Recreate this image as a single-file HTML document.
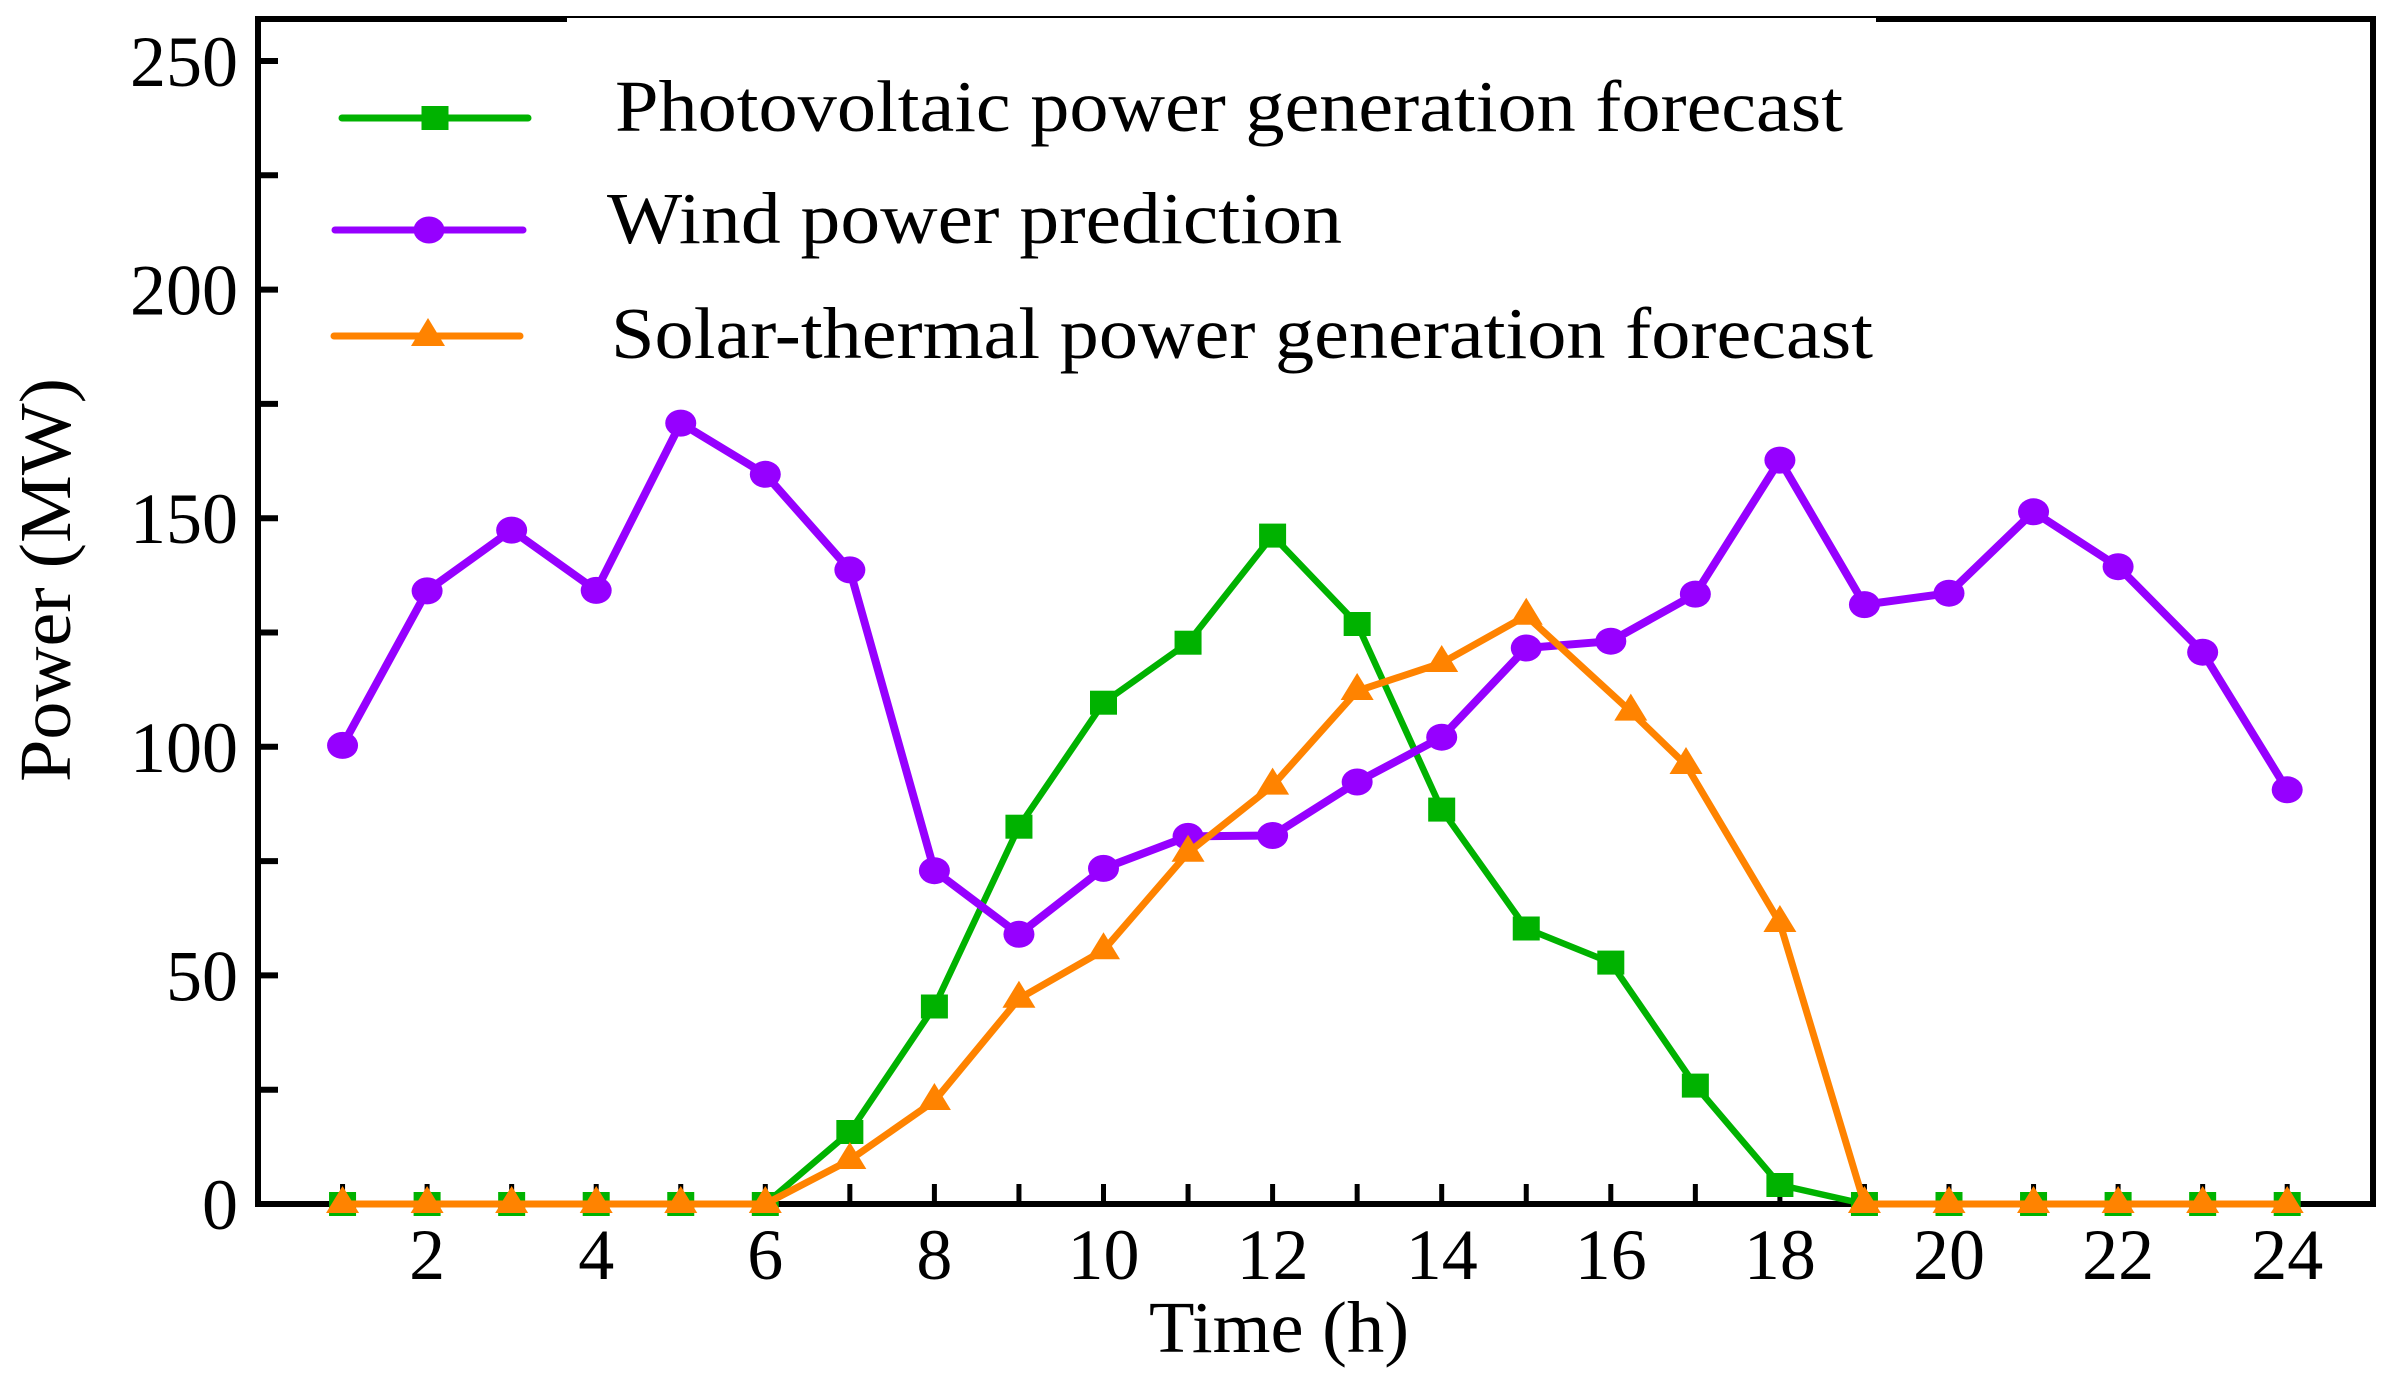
<!DOCTYPE html>
<html>
<head>
<meta charset="utf-8">
<style>
html,body{margin:0;padding:0;background:#ffffff;}
svg{display:block;}
</style>
</head>
<body>
<svg width="2390" height="1388" viewBox="0 0 2390 1388" xmlns="http://www.w3.org/2000/svg" font-family="'Liberation Serif', serif">
<defs>
  <marker id="sq" markerUnits="userSpaceOnUse" markerWidth="27" markerHeight="24" viewBox="0 0 27 24" refX="13.5" refY="12" overflow="visible">
    <rect x="0" y="0" width="27" height="24" fill="#00B200"/>
  </marker>
  <marker id="ci" markerUnits="userSpaceOnUse" markerWidth="31" markerHeight="27" viewBox="0 0 31 27" refX="15.5" refY="13.5" overflow="visible">
    <ellipse cx="15.5" cy="13.5" rx="15.5" ry="13.5" fill="#9600FF"/>
  </marker>
  <marker id="tr" markerUnits="userSpaceOnUse" markerWidth="33" markerHeight="27" viewBox="0 0 33 27" refX="16.5" refY="18" overflow="visible">
    <polygon points="16.5,0 0,27 33,27" fill="#FF8300"/>
  </marker>
</defs>

<rect x="0" y="0" width="2390" height="1388" fill="#ffffff"/>

<!-- axes frame -->
<g stroke="#000" stroke-width="6" fill="none">
  <line x1="258" y1="19" x2="2373" y2="19"/>
  <line x1="258" y1="16" x2="258" y2="1207"/>
  <line x1="2373" y1="16" x2="2373" y2="1207"/>
  <line x1="255" y1="1204" x2="2376" y2="1204"/>
</g>

<!-- y ticks -->
<g stroke="#000" stroke-width="6">
  <line x1="258" y1="1089.7" x2="278" y2="1089.7"/>
  <line x1="258" y1="975.4" x2="278" y2="975.4"/>
  <line x1="258" y1="861.1" x2="278" y2="861.1"/>
  <line x1="258" y1="746.8" x2="278" y2="746.8"/>
  <line x1="258" y1="632.5" x2="278" y2="632.5"/>
  <line x1="258" y1="518.2" x2="278" y2="518.2"/>
  <line x1="258" y1="403.9" x2="278" y2="403.9"/>
  <line x1="258" y1="289.6" x2="278" y2="289.6"/>
  <line x1="258" y1="175.3" x2="278" y2="175.3"/>
  <line x1="258" y1="61" x2="278" y2="61"/>
</g>

<!-- x ticks -->
<g stroke="#000" stroke-width="5">
  <line x1="342.55" y1="1184" x2="342.55" y2="1204"/>
  <line x1="427.1" y1="1184" x2="427.1" y2="1204"/>
  <line x1="511.65" y1="1184" x2="511.65" y2="1204"/>
  <line x1="596.2" y1="1184" x2="596.2" y2="1204"/>
  <line x1="680.75" y1="1184" x2="680.75" y2="1204"/>
  <line x1="765.3" y1="1184" x2="765.3" y2="1204"/>
  <line x1="849.85" y1="1184" x2="849.85" y2="1204"/>
  <line x1="934.4" y1="1184" x2="934.4" y2="1204"/>
  <line x1="1018.95" y1="1184" x2="1018.95" y2="1204"/>
  <line x1="1103.5" y1="1184" x2="1103.5" y2="1204"/>
  <line x1="1188.05" y1="1184" x2="1188.05" y2="1204"/>
  <line x1="1272.6" y1="1184" x2="1272.6" y2="1204"/>
  <line x1="1357.15" y1="1184" x2="1357.15" y2="1204"/>
  <line x1="1441.7" y1="1184" x2="1441.7" y2="1204"/>
  <line x1="1526.25" y1="1184" x2="1526.25" y2="1204"/>
  <line x1="1610.8" y1="1184" x2="1610.8" y2="1204"/>
  <line x1="1695.35" y1="1184" x2="1695.35" y2="1204"/>
  <line x1="1779.9" y1="1184" x2="1779.9" y2="1204"/>
  <line x1="1864.45" y1="1184" x2="1864.45" y2="1204"/>
  <line x1="1949" y1="1184" x2="1949" y2="1204"/>
  <line x1="2033.55" y1="1184" x2="2033.55" y2="1204"/>
  <line x1="2118.1" y1="1184" x2="2118.1" y2="1204"/>
  <line x1="2202.65" y1="1184" x2="2202.65" y2="1204"/>
  <line x1="2287.2" y1="1184" x2="2287.2" y2="1204"/>
</g>

<!-- y tick labels -->
<g font-size="72" fill="#000" text-anchor="end">
  <text x="238" y="1229">0</text>
  <text x="238" y="1000.4">50</text>
  <text x="238" y="771.8">100</text>
  <text x="238" y="543.2">150</text>
  <text x="238" y="314.6">200</text>
  <text x="238" y="86">250</text>
</g>

<!-- x tick labels -->
<g font-size="72" fill="#000" text-anchor="middle">
  <text x="427.1" y="1279">2</text>
  <text x="596.2" y="1279">4</text>
  <text x="765.3" y="1279">6</text>
  <text x="934.4" y="1279">8</text>
  <text x="1103.5" y="1279">10</text>
  <text x="1272.6" y="1279">12</text>
  <text x="1441.7" y="1279">14</text>
  <text x="1610.8" y="1279">16</text>
  <text x="1779.9" y="1279">18</text>
  <text x="1949" y="1279">20</text>
  <text x="2118.1" y="1279">22</text>
  <text x="2287.2" y="1279">24</text>
</g>

<!-- axis titles -->
<text x="1149" y="1352" font-size="73" fill="#000" textLength="260" lengthAdjust="spacingAndGlyphs">Time (h)</text>
<text transform="translate(70,782) rotate(-90)" x="0" y="0" font-size="73" fill="#000" textLength="404" lengthAdjust="spacingAndGlyphs">Power (MW)</text>

<!-- series: PV (green) -->
<polyline fill="none" stroke="#00B200" stroke-width="6.5" stroke-linejoin="round"
  marker-start="url(#sq)" marker-mid="url(#sq)" marker-end="url(#sq)"
  points="342.55,1204 427.1,1204 511.65,1204 596.2,1204 680.75,1204 765.3,1204 849.85,1132 934.4,1006.5 1018.95,826.7 1103.5,702.7 1188.05,642.7 1272.6,535.6 1357.15,624 1441.7,809.6 1526.25,928.5 1610.8,962.6 1695.35,1085.6 1779.9,1185 1864.45,1204 1949,1204 2033.55,1204 2118.1,1204 2202.65,1204 2287.2,1204"/>

<!-- series: Wind (purple) -->
<polyline fill="none" stroke="#9600FF" stroke-width="8" stroke-linejoin="round"
  marker-start="url(#ci)" marker-mid="url(#ci)" marker-end="url(#ci)"
  points="342.55,745.4 427.1,590.9 511.65,530.1 596.2,590.4 680.75,423.1 765.3,474.3 849.85,569.9 934.4,870.7 1018.95,934.3 1103.5,868.4 1188.05,836.4 1272.6,835.5 1357.15,782 1441.7,737.2 1526.25,648 1610.8,641.2 1695.35,594.1 1779.9,460.1 1864.45,604.6 1949,593.2 2033.55,511.8 2118.1,566.7 2202.65,652.2 2287.2,789.8"/>

<!-- series: Solar-thermal (orange) -->
<polyline fill="none" stroke="#FF8300" stroke-width="7" stroke-linejoin="round"
  marker-start="url(#tr)" marker-mid="url(#tr)" marker-end="url(#tr)"
  points="342.55,1204 427.1,1204 511.65,1204 596.2,1204 680.75,1204 765.3,1204 849.85,1160 934.4,1101 1018.95,998.7 1103.5,950.3 1188.05,852.7 1272.6,785.6 1357.15,691 1441.7,663 1526.25,615.7 1630.8,711.6 1686,765 1779.9,923 1864.45,1204 1949,1204 2033.55,1204 2118.1,1204 2202.65,1204 2287.2,1204"/>

<!-- legend box (white, covers top axis partially) -->
<rect x="567" y="18" width="1309" height="360" fill="#ffffff"/>

<!-- legend items -->
<line x1="342" y1="118" x2="528" y2="118" stroke="#00B200" stroke-width="7" stroke-linecap="round"/>
<rect x="421.5" y="106" width="27" height="24" fill="#00B200"/>
<line x1="335" y1="230" x2="523" y2="230" stroke="#9600FF" stroke-width="7" stroke-linecap="round"/>
<ellipse cx="429" cy="230" rx="15.5" ry="13.5" fill="#9600FF"/>
<line x1="334" y1="336" x2="520" y2="336" stroke="#FF8300" stroke-width="7" stroke-linecap="round"/>
<polygon points="428,318 411,346 445,346" fill="#FF8300"/>

<g font-size="73" fill="#000">
  <text x="615" y="131" textLength="1228" lengthAdjust="spacingAndGlyphs">Photovoltaic power generation forecast</text>
  <text x="607" y="243" textLength="735" lengthAdjust="spacingAndGlyphs">Wind power prediction</text>
  <text x="611" y="358" textLength="1262" lengthAdjust="spacingAndGlyphs">Solar-thermal power generation forecast</text>
</g>
</svg>
</body>
</html>
